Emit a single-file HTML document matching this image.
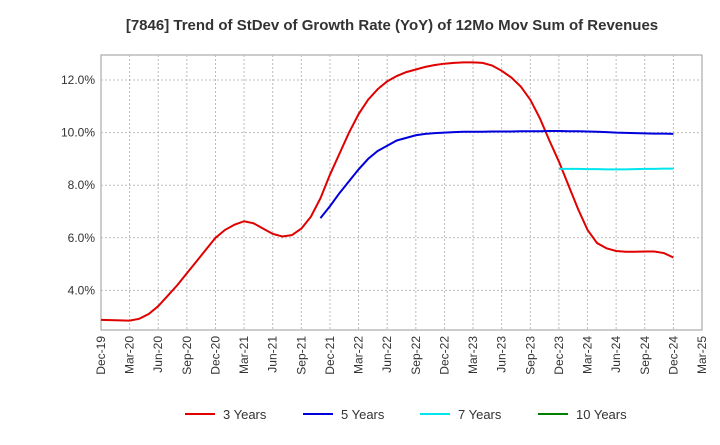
<!DOCTYPE html>
<html><head><meta charset="utf-8"><style>
body{margin:0;background:#fff;font-family:"Liberation Sans",sans-serif}
</style></head><body>
<svg id="chart" width="720" height="440" xmlns="http://www.w3.org/2000/svg">
<text x="392" y="30" text-anchor="middle" font-size="15" font-weight="bold" fill="#333">[7846]  Trend of StDev of Growth Rate (YoY) of 12Mo Mov Sum of Revenues</text>
<rect x="101" y="55" width="601" height="275" fill="none" stroke="#999"/>
<g id="grid"></g><g id="xt"></g><g id="yt"></g><g id="series"></g>
<g id="legend"></g>
</svg>
<script>
const xLabels=["Dec-19","Mar-20","Jun-20","Sep-20","Dec-20","Mar-21","Jun-21","Sep-21","Dec-21","Mar-22","Jun-22","Sep-22","Dec-22","Mar-23","Jun-23","Sep-23","Dec-23","Mar-24","Jun-24","Sep-24","Dec-24","Mar-25"];
const yTicks=[4,6,8,10,12];
const s3=[2.88,2.87,2.86,2.85,2.92,3.1,3.4,3.8,4.2,4.65,5.1,5.55,6.0,6.3,6.5,6.63,6.55,6.35,6.15,6.05,6.1,6.35,6.8,7.5,8.4,9.2,10.0,10.7,11.25,11.65,11.95,12.15,12.3,12.4,12.5,12.57,12.62,12.65,12.67,12.67,12.65,12.55,12.35,12.1,11.75,11.25,10.55,9.7,8.9,8.0,7.1,6.3,5.8,5.6,5.5,5.47,5.47,5.48,5.48,5.42,5.25];
const s5Start=23;
const s5=[6.75,7.2,7.7,8.15,8.6,9.0,9.3,9.5,9.7,9.8,9.9,9.95,9.98,10.0,10.02,10.03,10.03,10.03,10.04,10.04,10.04,10.05,10.05,10.05,10.06,10.06,10.05,10.05,10.04,10.03,10.02,10.0,9.99,9.98,9.97,9.96,9.96,9.95];
const s7Start=48;
const s7=[8.62,8.62,8.62,8.61,8.61,8.6,8.6,8.6,8.61,8.62,8.62,8.63,8.63];
const ns="http://www.w3.org/2000/svg";
const X=m=>101+m*601/63, Y=v=>80+(12-v)*26.3;
function el(t,a,p){const e=document.createElementNS(ns,t);for(const k in a)e.setAttribute(k,a[k]);document.getElementById(p).appendChild(e);return e;}
yTicks.forEach(v=>{
 const g=el("line",{x1:101,x2:702,y1:Y(v),y2:Y(v),stroke:"#bbb","stroke-dasharray":"2,2"},"grid");
 
 
 const t=el("text",{x:95,y:Y(v)+4,"text-anchor":"end","font-size":12,fill:"#333"},"yt");t.textContent=v.toFixed(1)+"%";
 
 
});
xLabels.forEach((l,i)=>{
 const x=X(i*3);
 if(i>0&&i<21){const g=el("line",{x1:x,x2:x,y1:55,y2:330,stroke:"#bbb","stroke-dasharray":"2,2"},"grid");
 
 }
 const t=el("text",{transform:`translate(${x+4},336) rotate(-90)`,"text-anchor":"end","font-size":12,fill:"#333"},"xt");t.textContent=l;
 
 
});
function line(d,start,c,n){
 const p=el("polyline",{points:d.map((v,i)=>X(start+i)+","+Y(v)).join(" "),fill:"none",stroke:c,"stroke-width":2},"series");
 
 
}
line(s3,0,"#e00000","line-3-years");
line(s5,s5Start,"#0000dd","line-5-years");
line(s7,s7Start,"#00e5ee","line-7-years");
[["3 Years","#e00000",185],["5 Years","#0000dd",303],["7 Years","#00e5ee",420],["10 Years","#008000",538]].forEach(([n,c,x])=>{
 const l=el("line",{x1:x,x2:x+30,y1:414,y2:414,stroke:c,"stroke-width":2},"legend");
 
 
 const t=el("text",{x:x+38,y:419,"font-size":13,fill:"#333"},"legend");t.textContent=n;
 
 
});
</script>
</body></html>
